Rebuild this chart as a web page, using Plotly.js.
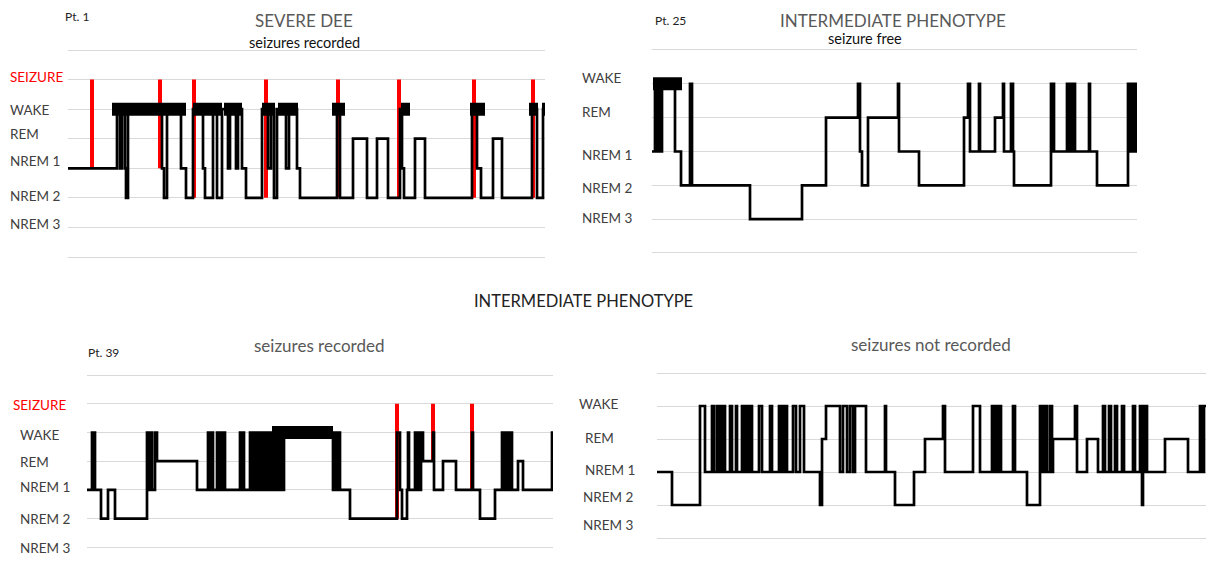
<!DOCTYPE html>
<html>
<head>
<meta charset="utf-8">
<script src="https://cdn.plot.ly/plotly-3.0.1.min.js"></script>
<style>html,body{margin:0;padding:0;background:#fff;}#chart{width:1206px;height:572px;}</style>
</head>
<body>
<div id="chart"></div>
<script>
// Stage codes: 1 = NREM 3, 2 = NREM 2, 3 = NREM 1, 4 = REM, 5 = WAKE, 6 = SEIZURE
const stageLabels = ['NREM 3', 'NREM 2', 'NREM 1', 'REM', 'WAKE', 'SEIZURE'];

// ---- Pt. 1 (severe DEE, seizures recorded) ----
const pt1_t     = [0,49,52,54,57,58,60,94,96,99,113,118,125,135,137,145,149,154,160,162,168,170,174,178,194,200,203,206,209,218,221,229,232,269,272,285,299,309,320,332,334,336,347,357,404,409,413,425,434,464,469,475,478];
const pt1_stage = [3,5,3,5,3,2,5,3,2,5,3,2,5,3,2,5,2,5,3,5,3,5,3,2,5,3,5,2,5,3,5,3,2,5,2,4,2,4,2,5,3,2,4,2,5,3,2,4,2,5,2,5,5];
const pt1_denseStart = [44,125,156,194,210,264,333,402,461,474];
const pt1_denseEnd   = [118,154,174,207,230,277,342,417,470,479];
const pt1_seizT      = [24,92,126,198,270,331,406,465];
const pt1_seizFrom   = [3,3,2,2,2,2,2,2];

// ---- Pt. 25 (intermediate phenotype, seizure free) ----
const pt25_t     = [0,3,5,6,7,8,9,10,23,29,38,40,98,150,174,206,208,210,216,246,247,267,312,316,318,327,328,343,351,352,359,361,362,399,400,401,402,415,416,417,418,419,420,421,423,437,438,445,476,477,478,479,480,481,482,483,484,485];
const pt25_stage = [3,5,3,5,3,5,3,5,3,2,5,2,1,2,4,5,3,2,4,5,3,2,4,5,3,5,3,4,5,3,5,3,2,5,3,5,3,5,3,5,3,5,3,5,3,5,3,2,5,3,5,3,5,3,5,3,5,3];
const pt25_denseStart = [1];
const pt25_denseEnd   = [30];

// ---- Pt. 39 (intermediate phenotype, seizures recorded) ----
const pt39_t     = [0,5,6,7,8,14,21,28,60,61,62,63,64,65,68,70,110,121,122,123,124,125,126,130,131,132,133,134,135,136,138,153,154,156,157,163,165,167,169,171,173,175,177,179,181,183,184,185,186,187,188,189,190,191,192,193,194,195,196,197,246,248,249,251,253,263,310,313,315,320,321,322,328,329,330,331,332,333,334,336,346,347,356,369,385,386,393,408,415,416,417,418,420,421,423,425,431,436,465,466];
const pt39_stage = [3,5,3,5,3,2,3,2,5,3,5,3,5,3,5,4,3,5,3,5,3,5,3,5,3,5,3,5,3,5,3,5,3,5,3,5,3,5,3,5,3,5,3,5,3,5,3,5,3,5,3,5,3,5,3,5,3,5,3,5,3,5,3,5,3,2,5,3,2,3,5,3,5,3,5,3,5,3,5,4,5,3,4,3,5,3,2,3,5,3,5,3,5,3,5,3,4,3,5,5];
const pt39_denseStart = [185];
const pt39_denseEnd   = [246];
const pt39_seizT      = [310,346,385];
const pt39_seizFrom   = [2,4,3];

// ---- Seizures not recorded ----
const pt4_t = [
  0,15,43,48,55,57,60,61,62,63,
  64,65,66,68,73,75,79,80,85,86,
  87,88,89,90,91,92,93,95,102,105,
  113,115,122,123,124,125,126,127,128,130,
  136,139,143,147,163,165,169,183,186,190,
  193,196,198,209,228,229,238,257,268,286,
  288,316,323,335,337,339,341,343,344,356,
  358,370,383,384,385,386,387,388,389,390,
  393,395,396,418,420,430,441,446,448,452,
  454,458,460,465,467,476,478,483,484,485,
  486,488,489,490,508,531,543,544,545,546,
  547,552];
const pt4_stage = [
  3,2,5,3,5,3,5,3,5,3,
  5,3,5,3,5,3,5,3,5,3,
  5,3,5,3,5,3,5,3,5,3,
  5,3,5,3,5,3,5,3,5,3,
  5,3,5,3,2,4,5,3,5,3,
  5,3,5,3,5,3,2,3,4,5,
  3,5,3,5,3,5,3,5,3,5,
  3,2,5,3,5,3,5,3,5,3,
  5,3,4,5,3,4,3,5,3,5,
  3,5,3,5,3,5,3,5,3,2,
  5,3,5,3,4,3,5,3,5,3,
  5,5];

const W = 1206, H = 572;
const px = x => x / W;
const py = y => 1 - y / H;

function yDom(px0, ppu, lo, hi) {
  return { domain: [Math.max(0, py(px0 - lo * ppu)), Math.min(1, py(px0 - hi * ppu))], range: [lo, hi] };
}

const gridStyle = { showgrid: true, gridcolor: '#d9d9d9', gridwidth: 1, dtick: 1, tick0: 0,
  showticklabels: false, ticks: '', zeroline: false, showline: false, fixedrange: true };
const xStyle = { showgrid: false, zeroline: false, showline: false, showticklabels: false, ticks: '', fixedrange: true };

const panels = [
  { t: pt1_t, s: pt1_stage, ds: pt1_denseStart, de: pt1_denseEnd, st: pt1_seizT, sf: pt1_seizFrom, xa: 'x', ya: 'y' },
  { t: pt25_t, s: pt25_stage, ds: pt25_denseStart, de: pt25_denseEnd, st: [], sf: [], xa: 'x2', ya: 'y2' },
  { t: pt39_t, s: pt39_stage, ds: pt39_denseStart, de: pt39_denseEnd, st: pt39_seizT, sf: pt39_seizFrom, xa: 'x3', ya: 'y3' },
  { t: pt4_t, s: pt4_stage, ds: [], de: [], st: [], sf: [], xa: 'x4', ya: 'y4' }
];

const traces = [];
panels.forEach(p => {
  if (p.st.length) {
    const sx = [], sy = [];
    p.st.forEach((t, i) => { sx.push(t, t, null); sy.push(p.sf[i], 6, null); });
    traces.push({ type: 'scatter', mode: 'lines', x: sx, y: sy, xaxis: p.xa, yaxis: p.ya,
      line: { color: '#ff0000', width: 4 }, hoverinfo: 'skip', showlegend: false });
  }
  traces.push({ type: 'scatter', mode: 'lines', x: p.t, y: p.s, xaxis: p.xa, yaxis: p.ya,
    line: { color: '#000000', width: 2.7, shape: 'hv' }, hoverinfo: 'skip', showlegend: false });
  if (p.ds.length) {
    const bx = [], by = [];
    p.ds.forEach((s, i) => { bx.push(s, p.de[i], null); by.push(5, 5, null); });
    traces.push({ type: 'scatter', mode: 'lines', x: bx, y: by, xaxis: p.xa, yaxis: p.ya,
      line: { color: '#000000', width: 13 }, hoverinfo: 'skip', showlegend: false });
  }
});

const ann = [];
function lab(text, x, y, opts) {
  opts = opts || {};
  ann.push({ text: text, xref: 'paper', yref: 'paper', x: px(x), y: py(y),
    xanchor: opts.anchor || 'left', yanchor: 'middle', showarrow: false,
    font: { family: 'Lato, "Open Sans", sans-serif', size: opts.size || 14, color: opts.color || '#404040' } });
}
// stage labels
[[5,8,77],[4,8,110],[3,8,134],[2,8,161],[1,8,196],[0,8,224]].forEach(([i,x,y]) =>
  lab(stageLabels[i], x, y, { color: i === 5 ? '#ff0000' : '#404040', size: 13.5 }));
[[4,580,78],[3,580,112],[2,580,155],[1,580,188],[0,580,218]].forEach(([i,x,y]) =>
  lab(stageLabels[i], x, y, { size: 13.5 }));
[[5,11,405],[4,18,435],[3,18,462],[2,18,487],[1,18,519],[0,18,548]].forEach(([i,x,y]) =>
  lab(stageLabels[i], x, y, { color: i === 5 ? '#ff0000' : '#404040', size: 13.5 }));
[[4,577,404],[3,583,438],[2,583,470],[1,581,497],[0,581,525]].forEach(([i,x,y]) =>
  lab(stageLabels[i], x, y, { size: 13.5 }));

// titles
lab('Pt. 1', 63, 17, { size: 12, color: '#222' });
lab('SEVERE DEE', 304, 20, { size: 17, color: '#595959', anchor: 'center' });
lab('seizures recorded', 304, 42, { size: 14.5, color: '#111', anchor: 'center' });
lab('Pt. 25', 653, 20, { size: 12, color: '#222' });
lab('INTERMEDIATE PHENOTYPE', 893, 20, { size: 17, color: '#595959', anchor: 'center' });
lab('seizure free', 865, 39, { size: 14.5, color: '#111', anchor: 'center' });
lab('INTERMEDIATE PHENOTYPE', 583, 301, { size: 16.5, color: '#222', anchor: 'center' });
lab('Pt. 39', 86, 353, { size: 12, color: '#222' });
lab('seizures recorded', 319, 345, { size: 17, color: '#595959', anchor: 'center' });
lab('seizures not recorded', 931, 344, { size: 17, color: '#595959', anchor: 'center' });

const layout = {
  width: W, height: H,
  margin: { l: 0, r: 0, t: 0, b: 0, pad: 0 },
  paper_bgcolor: '#ffffff', plot_bgcolor: 'rgba(0,0,0,0)',
  showlegend: false,
  xaxis:  Object.assign({}, xStyle, { domain: [px(68), px(545)], range: [0, 477], anchor: 'y' }),
  yaxis:  Object.assign({}, gridStyle, yDom(257, 207 / 7, -0.05, 7.05), { anchor: 'x' }),
  xaxis2: Object.assign({}, xStyle, { domain: [px(652), px(1137)], range: [0, 485], anchor: 'y2' }),
  yaxis2: Object.assign({}, gridStyle, yDom(253, 203 / 6, -0.05, 6.05), { anchor: 'x2' }),
  xaxis3: Object.assign({}, xStyle, { domain: [px(87), px(553)], range: [0, 466], anchor: 'y3' }),
  yaxis3: Object.assign({}, gridStyle, yDom(576, 28.7, 4 / 28.7, 7.05), { anchor: 'x3' }),
  xaxis4: Object.assign({}, xStyle, { domain: [px(657), 1], range: [0, 549], anchor: 'y4' }),
  yaxis4: Object.assign({}, gridStyle, yDom(571, 33, -0.03, 6.05), { anchor: 'x4' }),
  annotations: ann
};

Plotly.newPlot('chart', traces, layout, { displayModeBar: false, staticPlot: true });
</script>
</body>
</html>
